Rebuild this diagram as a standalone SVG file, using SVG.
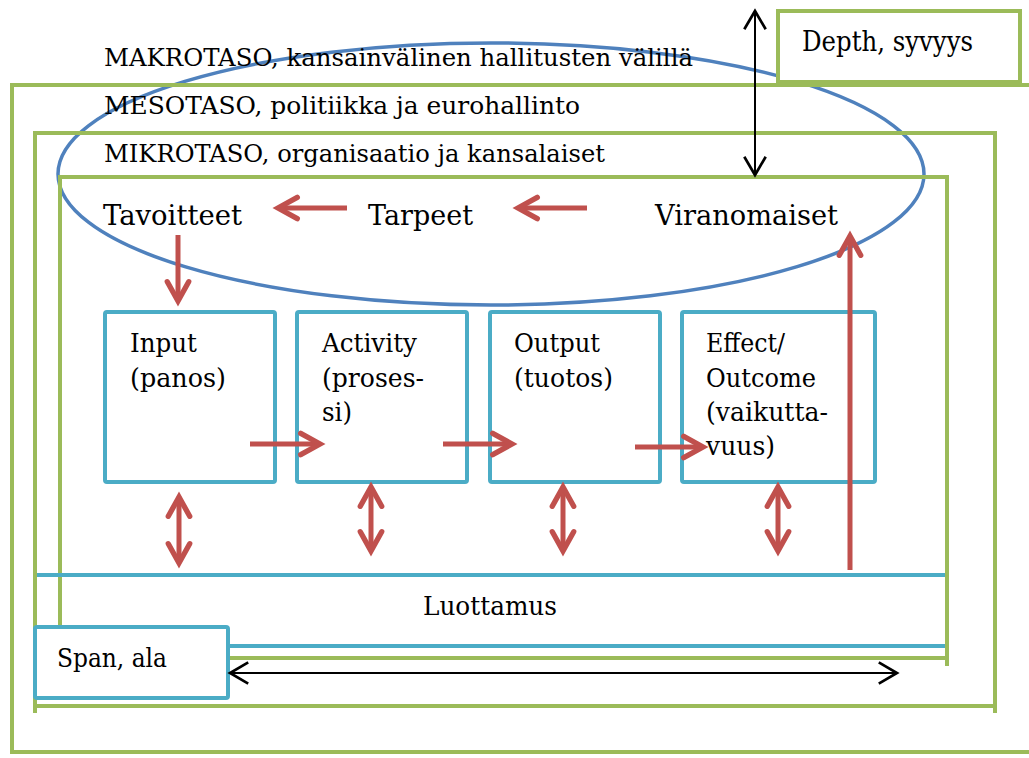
<svg xmlns="http://www.w3.org/2000/svg" width="1029" height="758" viewBox="0 0 1029 758">
<style>
.g{fill:none;stroke:#9BBB59;stroke-width:4}
.b{fill:none;stroke:#4BACC6;stroke-width:4}
.red{stroke:#C0504D;stroke-width:5;fill:none}
.blk{stroke:#000;stroke-width:2;fill:none}
text{font-family:'DejaVu Serif','Liberation Serif',serif;fill:#000}
</style>
<defs>
<marker id="rh" markerUnits="userSpaceOnUse" markerWidth="30" markerHeight="30" viewBox="-22 -14 26 28" refX="0" refY="0" orient="auto-start-reverse" overflow="visible">
<path d="M-18,-10 L0,0 L-18,10" fill="none" stroke="#C0504D" stroke-width="5" stroke-linecap="round" stroke-linejoin="miter"/>
</marker>
<marker id="bh" markerUnits="userSpaceOnUse" markerWidth="30" markerHeight="30" viewBox="-22 -14 26 28" refX="0" refY="0" orient="auto-start-reverse" overflow="visible">
<path d="M-17,-10 L0,0 L-17,10" fill="none" stroke="#000" stroke-width="2.5"/>
</marker>
</defs>
<rect width="1029" height="758" fill="#fff"/>

<g id="ellipse">
<ellipse cx="491" cy="174" rx="433" ry="131" fill="none" stroke="#4F81BD" stroke-width="3.5"/>
</g>

<g id="makrotaso">
<path class="g" d="M1031,85 H12 V752 H1031"/>
<text x="104" y="66" font-size="25" textLength="589" lengthAdjust="spacingAndGlyphs">MAKROTASO, kansainvälinen hallitusten välillä</text>
</g>
<g id="mesotaso">
<path class="g" d="M35,713 V133 H995 V713 M35,706 H995"/>
<text x="104" y="114" font-size="25" textLength="476" lengthAdjust="spacingAndGlyphs">MESOTASO, politiikka ja eurohallinto</text>
</g>
<g id="mikrotaso">
<path class="g" d="M60,658 V177 H947 V666 M60,658 H947"/>
<text x="104" y="162" font-size="25" textLength="501" lengthAdjust="spacingAndGlyphs">MIKROTASO, organisaatio ja kansalaiset</text>
</g>

<g id="depth">
<rect x="778" y="11" width="242" height="71" fill="#fff" stroke="#9BBB59" stroke-width="4"/>
<text x="802" y="51" font-size="27" textLength="171" lengthAdjust="spacingAndGlyphs">Depth, syvyys</text>
</g>

<g id="tavoitteet"><text x="103" y="225" font-size="28" textLength="139" lengthAdjust="spacingAndGlyphs">Tavoitteet</text></g>
<g id="tarpeet"><text x="368" y="225" font-size="28" textLength="105" lengthAdjust="spacingAndGlyphs">Tarpeet</text></g>
<g id="viranomaiset"><text x="655" y="225" font-size="28" textLength="183" lengthAdjust="spacingAndGlyphs">Viranomaiset</text></g>

<g id="input">
<rect class="b" x="105" y="312" width="170" height="170" rx="2"/>
<text x="130" y="352" font-size="26" textLength="67" lengthAdjust="spacingAndGlyphs">Input</text>
<text x="130" y="387" font-size="26" textLength="96" lengthAdjust="spacingAndGlyphs">(panos)</text>
</g>
<g id="activity">
<rect class="b" x="297" y="312" width="170" height="170" rx="2"/>
<text x="322" y="352" font-size="26" textLength="95" lengthAdjust="spacingAndGlyphs">Activity</text>
<text x="322" y="387" font-size="26" textLength="102" lengthAdjust="spacingAndGlyphs">(proses-</text>
<text x="322" y="421" font-size="26" textLength="30" lengthAdjust="spacingAndGlyphs">si)</text>
</g>
<g id="output">
<rect class="b" x="490" y="312" width="170" height="170" rx="2"/>
<text x="514" y="352" font-size="26" textLength="86" lengthAdjust="spacingAndGlyphs">Output</text>
<text x="514" y="387" font-size="26" textLength="99" lengthAdjust="spacingAndGlyphs">(tuotos)</text>
</g>
<g id="effect">
<rect class="b" x="682" y="312" width="193" height="170" rx="2"/>
<text x="706" y="352" font-size="26" textLength="79" lengthAdjust="spacingAndGlyphs">Effect/</text>
<text x="706" y="387" font-size="26" textLength="110" lengthAdjust="spacingAndGlyphs">Outcome</text>
<text x="706" y="421" font-size="26" textLength="122" lengthAdjust="spacingAndGlyphs">(vaikutta-</text>
<text x="706" y="455" font-size="26" textLength="69" lengthAdjust="spacingAndGlyphs">vuus)</text>
</g>

<g id="luottamus">
<path class="b" d="M37,575 H945 M228,646 H945"/>
<text x="423" y="615" font-size="26" textLength="134" lengthAdjust="spacingAndGlyphs">Luottamus</text>
</g>

<g id="span">
<rect x="35" y="627" width="193" height="71" rx="2" fill="#fff" stroke="#4BACC6" stroke-width="4"/>
<text x="57" y="667" font-size="26" textLength="110" lengthAdjust="spacingAndGlyphs">Span, ala</text>
</g>

<g id="connectors">
<line class="red" x1="347" y1="208" x2="278" y2="208" marker-end="url(#rh)"/>
<line class="red" x1="587" y1="208" x2="518" y2="208" marker-end="url(#rh)"/>
<line class="red" x1="178" y1="235" x2="178" y2="301" marker-end="url(#rh)"/>
<line class="red" x1="250" y1="444" x2="320" y2="444" marker-end="url(#rh)"/>
<line class="red" x1="443" y1="444" x2="512" y2="444" marker-end="url(#rh)"/>
<line class="red" x1="635" y1="447" x2="703" y2="447" marker-end="url(#rh)"/>
<line class="red" x1="850" y1="570" x2="850" y2="236" marker-end="url(#rh)"/>
<line class="red" x1="179" y1="497" x2="179" y2="563" marker-start="url(#rh)" marker-end="url(#rh)"/>
<line class="red" x1="371" y1="487" x2="371" y2="551" marker-start="url(#rh)" marker-end="url(#rh)"/>
<line class="red" x1="563" y1="487" x2="563" y2="551" marker-start="url(#rh)" marker-end="url(#rh)"/>
<line class="red" x1="778" y1="487" x2="778" y2="551" marker-start="url(#rh)" marker-end="url(#rh)"/>
<line class="blk" x1="755" y1="11" x2="755" y2="175" marker-start="url(#bh)" marker-end="url(#bh)"/>
<line class="blk" x1="230" y1="673" x2="897" y2="673" marker-start="url(#bh)" marker-end="url(#bh)"/>
</g>
</svg>
